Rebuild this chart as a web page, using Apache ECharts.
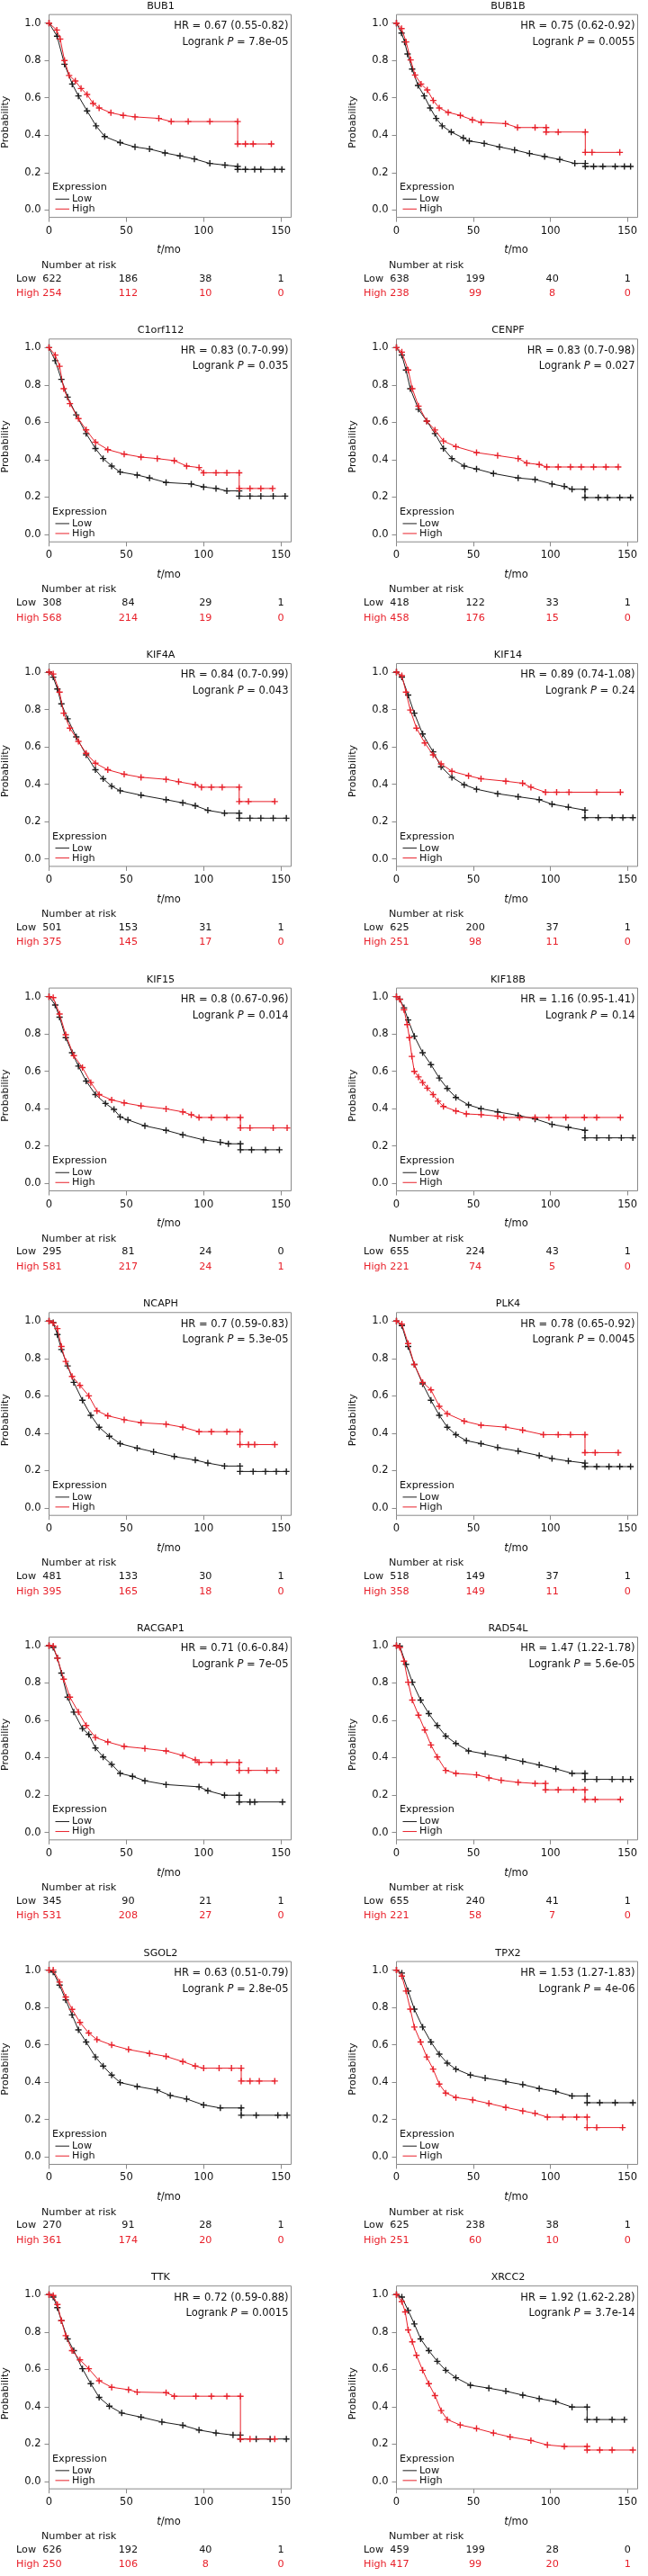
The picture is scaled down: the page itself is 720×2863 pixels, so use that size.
<!DOCTYPE html>
<html><head><meta charset="utf-8">
<script src="https://cdn.jsdelivr.net/npm/echarts@6/dist/echarts.min.js"></script>
<style>html,body{margin:0;padding:0;background:#fff}#c{width:720px;height:2863px}</style>
</head><body><div id="c"></div>
<script>
// ---------- DATA ----------
const genes = ['BUB1','BUB1B','C1orf112','CENPF','KIF4A','KIF14','KIF15','KIF18B','NCAPH','PLK4','RACGAP1','RAD54L','SGOL2','TPX2','TTK','XRCC2'];
const hrValues = ['0.67 (0.55-0.82)','0.75 (0.62-0.92)','0.83 (0.7-0.99)','0.83 (0.7-0.98)','0.84 (0.7-0.99)','0.89 (0.74-1.08)','0.8 (0.67-0.96)','1.16 (0.95-1.41)','0.7 (0.59-0.83)','0.78 (0.65-0.92)','0.71 (0.6-0.84)','1.47 (1.22-1.78)','0.63 (0.51-0.79)','1.53 (1.27-1.83)','0.72 (0.59-0.88)','1.92 (1.62-2.28)'];
const logrankP = ['7.8e-05','0.0055','0.035','0.027','0.043','0.24','0.014','0.14','5.3e-05','0.0045','7e-05','5.6e-05','2.8e-05','4e-06','0.0015','3.7e-14'];
const riskTimes = [0, 50, 100, 150];
const yTicks = [0, 0.2, 0.4, 0.6, 0.8, 1.0];
const riskLow = [[622,186,38,1],[638,199,40,1],[308,84,29,1],[418,122,33,1],[501,153,31,1],[625,200,37,1],[295,81,24,0],[655,224,43,1],[481,133,30,1],[518,149,37,1],[345,90,21,1],[655,240,41,1],[270,91,28,1],[625,238,38,1],[626,192,40,1],[459,199,28,0]];
const riskHigh = [[254,112,10,0],[238,99,8,0],[568,214,19,0],[458,176,15,0],[375,145,17,0],[251,98,11,0],[581,217,24,1],[221,74,5,0],[395,165,18,0],[358,149,11,0],[531,208,27,0],[221,58,7,0],[361,174,20,0],[251,60,10,0],[250,106,8,0],[417,99,20,1]];

const low_BUB1 = [[0,1],[5.2,0.93],[10,0.78],[15,0.674],[19,0.61],[24.6,0.53],[30.4,0.45],[36,0.393],[46,0.36],[55.6,0.337],[65,0.326],[75,0.305],[84.7,0.289],[94,0.273],[104,0.249],[113.8,0.24],[122,0.233],[122,0.217],[127,0.217],[133,0.217],[137,0.217],[146,0.217],[150.6,0.217]];
const high_BUB1 = [[0,1],[5,0.963],[7.2,0.915],[10,0.8],[13,0.72],[17,0.69],[20.7,0.65],[24.6,0.618],[28.5,0.57],[32.4,0.546],[40,0.52],[48,0.506],[55.6,0.498],[71,0.49],[79,0.473],[90,0.473],[104,0.473],[122,0.473],[122,0.353],[127,0.353],[132,0.353],[143.8,0.353]];
const low_BUB1B = [[0,1],[3.3,0.947],[5.3,0.899],[7.2,0.835],[10.2,0.754],[14,0.666],[18,0.61],[21.9,0.546],[25.8,0.49],[29.7,0.45],[35.6,0.417],[43.4,0.385],[47.3,0.369],[57,0.356],[66.9,0.337],[76.7,0.321],[86.4,0.302],[96.2,0.286],[106,0.27],[115.8,0.249],[122.6,0.249],[122.6,0.233],[128,0.233],[134,0.233],[142,0.233],[148,0.233],[152,0.233]];
const high_BUB1B = [[0,1],[3.3,0.971],[6.3,0.899],[9.2,0.803],[12.1,0.722],[16,0.674],[20,0.642],[23.9,0.586],[27.8,0.546],[33.6,0.522],[41.5,0.506],[49.3,0.482],[55,0.469],[70.8,0.462],[78.6,0.441],[90,0.441],[97.2,0.441],[97.2,0.417],[105,0.417],[122.6,0.417],[122.6,0.308],[127,0.308],[145,0.308]];
const low_C1orf112 = [[0,1],[4,0.93],[8,0.83],[12,0.735],[17.6,0.64],[24,0.54],[30,0.46],[35,0.406],[40.5,0.366],[46,0.334],[57,0.318],[65,0.302],[75.7,0.278],[92,0.27],[100,0.254],[108,0.246],[115,0.233],[123,0.233],[123,0.205],[130,0.205],[137,0.205],[145,0.205],[152.7,0.205]];
const high_C1orf112 = [[0,1],[4,0.96],[6.8,0.9],[9.5,0.78],[13.5,0.7],[19,0.62],[24,0.56],[30,0.494],[38,0.454],[48.6,0.43],[59.5,0.414],[70,0.406],[81,0.395],[89,0.366],[97,0.358],[100,0.33],[108,0.33],[115,0.33],[123,0.33],[123,0.246],[130,0.246],[137,0.246],[144.6,0.246]];
const low_CENPF = [[0,1],[3.5,0.96],[6.2,0.88],[9,0.78],[14.3,0.67],[19.7,0.607],[25,0.54],[30.5,0.46],[36,0.406],[44,0.366],[52,0.35],[63,0.326],[79,0.302],[90,0.294],[101,0.27],[109,0.257],[114,0.242],[122.4,0.242],[122.4,0.197],[131,0.197],[137,0.197],[145,0.197],[152,0.197]];
const high_CENPF = [[0,1],[3.5,0.976],[7.6,0.88],[10.3,0.78],[14.3,0.687],[19.7,0.607],[25,0.559],[30.5,0.5],[38.6,0.47],[52,0.438],[65.7,0.422],[79,0.406],[84.6,0.382],[92.7,0.374],[97.6,0.361],[105,0.361],[113,0.361],[120,0.361],[128,0.361],[136,0.361],[144,0.361]];
const low_KIF4A = [[0,1],[2.7,0.973],[5.4,0.91],[8,0.83],[12,0.75],[17.6,0.653],[24,0.557],[30,0.477],[35,0.429],[40.5,0.389],[46,0.365],[59.5,0.341],[75.7,0.317],[86.5,0.3],[94.6,0.285],[102.7,0.26],[113.5,0.245],[123,0.245],[123,0.218],[130,0.218],[137,0.218],[145,0.218],[153.5,0.218]];
const high_KIF4A = [[0,1],[2.7,0.99],[6.8,0.893],[9.5,0.78],[13.5,0.7],[19,0.629],[24,0.565],[30,0.512],[38,0.477],[48.6,0.453],[59.5,0.437],[75.7,0.426],[83.8,0.413],[94.6,0.397],[98.6,0.384],[105,0.384],[112,0.384],[123,0.384],[123,0.307],[129,0.307],[146,0.307]];
const low_KIF14 = [[0,1],[3.5,0.973],[7.6,0.877],[11.6,0.78],[17,0.669],[23.8,0.573],[29,0.493],[36,0.437],[44,0.397],[52,0.373],[65.7,0.349],[79,0.333],[92.7,0.317],[101,0.293],[111.6,0.277],[122.4,0.261],[122.4,0.221],[131,0.221],[140,0.221],[147,0.221],[153.5,0.221]];
const high_KIF14 = [[0,1],[3.5,0.981],[6.2,0.893],[9,0.797],[13,0.7],[18.4,0.621],[23.8,0.557],[29,0.509],[36,0.469],[46.8,0.445],[54.9,0.429],[71,0.416],[81.9,0.405],[87.3,0.384],[96.8,0.357],[104,0.357],[112,0.357],[130,0.357],[145.4,0.357]];
const low_KIF15 = [[0,1],[4,0.955],[6.8,0.89],[10.8,0.78],[14.9,0.7],[19,0.628],[24,0.548],[30,0.476],[36.5,0.428],[42,0.396],[46,0.356],[51,0.34],[62,0.308],[75.7,0.284],[86.5,0.26],[100,0.233],[110.8,0.22],[116,0.212],[123.8,0.212],[123.8,0.18],[131,0.18],[140,0.18],[149,0.18]];
const high_KIF15 = [[0,1],[2.7,0.995],[6.8,0.907],[10.8,0.796],[16,0.684],[21.6,0.62],[27,0.54],[32.4,0.476],[40.5,0.447],[48.6,0.431],[59.5,0.415],[75.7,0.399],[86.5,0.383],[92,0.367],[97,0.353],[105,0.353],[115,0.353],[123.8,0.353],[123.8,0.297],[130,0.297],[145,0.297],[154,0.297]];
const low_KIF18B = [[0,1],[2.2,0.987],[4.9,0.94],[7.6,0.875],[11.6,0.788],[17,0.7],[22.4,0.636],[27.8,0.564],[33,0.508],[38.6,0.46],[46.8,0.42],[54.9,0.4],[65.7,0.383],[79,0.364],[90,0.345],[101,0.316],[111.6,0.3],[122.4,0.284],[122.4,0.244],[130,0.244],[138,0.244],[146,0.244],[153.5,0.244]];
const high_KIF18B = [[0,1],[2.2,0.985],[4.9,0.93],[7,0.85],[8.4,0.78],[10,0.68],[11.6,0.6],[14.3,0.57],[17,0.54],[20,0.51],[23.8,0.476],[27,0.44],[30.5,0.412],[38.6,0.388],[45.4,0.372],[55,0.368],[65.7,0.36],[69.7,0.353],[80,0.353],[90,0.353],[99,0.353],[110,0.353],[122,0.353],[130,0.353],[145.4,0.353]];
const low_NCAPH = [[0,1],[2.7,0.992],[5.4,0.928],[8,0.848],[12,0.76],[16,0.672],[21.6,0.576],[27,0.496],[32.4,0.432],[39,0.384],[46,0.344],[57,0.32],[67.6,0.3],[81,0.275],[94.6,0.256],[102.7,0.24],[113.5,0.224],[123.5,0.224],[123.5,0.195],[132,0.195],[140,0.195],[147,0.195],[153.5,0.195]];
const high_NCAPH = [[0,1],[2.7,0.99],[5.4,0.96],[8,0.864],[10.8,0.784],[14.9,0.704],[20,0.656],[25.7,0.6],[31,0.52],[38,0.493],[48.6,0.472],[59.5,0.456],[75.7,0.448],[86.5,0.432],[97,0.408],[105,0.408],[115,0.408],[123.5,0.408],[123.5,0.339],[129,0.339],[133,0.339],[146,0.339]];
const low_PLK4 = [[0,1],[3.5,0.976],[7.6,0.864],[11.6,0.768],[17,0.664],[22.4,0.576],[27.8,0.496],[33,0.432],[38.6,0.392],[45.4,0.36],[54.9,0.344],[65.7,0.323],[79,0.304],[92.7,0.28],[101,0.264],[111.6,0.251],[122.4,0.24],[122.4,0.221],[130,0.221],[138,0.221],[145,0.221],[152,0.221]];
const high_PLK4 = [[0,1],[3.5,0.984],[7.6,0.88],[11.6,0.768],[17,0.672],[22.4,0.632],[27.8,0.544],[33,0.504],[44,0.464],[54.9,0.443],[71,0.432],[81.9,0.416],[95.4,0.392],[105,0.392],[113,0.392],[122.4,0.392],[122.4,0.296],[129,0.296],[144,0.296]];
const low_RACGAP1 = [[0,1],[2.7,0.99],[5.4,0.933],[8,0.853],[12,0.724],[16,0.644],[21.6,0.556],[25.7,0.524],[30,0.452],[35,0.404],[40.5,0.364],[46,0.316],[54,0.3],[62,0.276],[75.7,0.256],[97,0.244],[102.7,0.223],[113.5,0.199],[123,0.199],[123,0.163],[130,0.163],[133,0.163],[151,0.163]];
const high_RACGAP1 = [[0,1],[2.7,0.997],[5.4,0.933],[9.5,0.82],[13.5,0.724],[19,0.644],[24,0.572],[30,0.508],[38,0.484],[48.6,0.46],[62,0.449],[75.7,0.436],[86.5,0.412],[94.6,0.388],[97,0.375],[105,0.375],[115,0.375],[123,0.375],[123,0.332],[129,0.332],[141,0.332],[147,0.332]];
const low_RAD54L = [[0,1],[2.2,0.997],[6.2,0.9],[10.3,0.804],[15.7,0.708],[21,0.636],[26.5,0.572],[32,0.516],[38.6,0.476],[46.8,0.436],[57.6,0.42],[71,0.4],[82,0.38],[92.7,0.361],[103.5,0.34],[114,0.316],[122.4,0.316],[122.4,0.284],[130,0.284],[140,0.284],[147,0.284],[152,0.284]];
const high_RAD54L = [[0,1],[2.2,0.99],[4.9,0.917],[7.6,0.804],[10.3,0.708],[14.3,0.628],[18.4,0.548],[22.4,0.468],[26.5,0.404],[32,0.332],[38.6,0.316],[52,0.308],[60,0.292],[68,0.279],[79,0.268],[90,0.262],[96.8,0.262],[96.8,0.228],[105,0.228],[115,0.228],[122.4,0.228],[122.4,0.176],[129,0.176],[145.4,0.176]];
const low_SGOL2 = [[0,1],[2.7,0.99],[6.8,0.92],[10.8,0.84],[14.9,0.76],[19,0.68],[24,0.615],[30,0.535],[35,0.486],[40.5,0.438],[46,0.398],[57,0.377],[70,0.358],[78.4,0.329],[89,0.31],[100,0.278],[110.8,0.262],[124.3,0.262],[124.3,0.223],[134,0.223],[148,0.223],[154,0.223]];
const high_SGOL2 = [[0,1],[2.7,1],[6.8,0.936],[10.8,0.856],[14.9,0.79],[20,0.72],[25.7,0.663],[31,0.628],[40.5,0.599],[51.4,0.575],[65,0.554],[75.7,0.538],[86.5,0.51],[94.6,0.486],[100,0.475],[110,0.475],[118,0.475],[124.3,0.475],[124.3,0.406],[130,0.406],[136,0.406],[146,0.406]];
const low_TPX2 = [[0,1],[3.5,0.984],[7.6,0.888],[11.6,0.791],[17,0.695],[22.4,0.615],[27.8,0.55],[33,0.502],[38.6,0.47],[48,0.438],[57.6,0.422],[71,0.403],[82,0.387],[92.7,0.366],[103.5,0.35],[114,0.326],[123.8,0.326],[123.8,0.29],[132,0.29],[142,0.29],[153.5,0.29]];
const high_TPX2 = [[0,1],[3.5,0.968],[6.2,0.888],[9,0.791],[11.6,0.695],[15.7,0.615],[19.7,0.535],[23.8,0.47],[27.8,0.39],[32,0.342],[38.6,0.318],[49.5,0.305],[60,0.286],[71,0.265],[82,0.246],[90,0.233],[98,0.213],[108,0.213],[117,0.213],[123.8,0.213],[123.8,0.157],[130,0.157],[146.8,0.157]];
const low_TTK = [[0,1],[2.7,0.987],[5.4,0.93],[8,0.86],[12,0.763],[16,0.7],[21.6,0.603],[27,0.523],[32.4,0.45],[39,0.403],[47,0.366],[59.5,0.344],[73,0.318],[86.5,0.3],[97,0.275],[108,0.259],[119,0.248],[123.8,0.248],[123.8,0.227],[134,0.227],[143,0.227],[153.5,0.227]];
const high_TTK = [[0,1],[2.7,0.995],[5.4,0.947],[8,0.86],[10.8,0.78],[14.9,0.7],[20,0.651],[25.7,0.603],[32.4,0.539],[40.5,0.504],[51.4,0.491],[57,0.478],[75.7,0.475],[81,0.456],[95,0.456],[105,0.456],[115,0.456],[123.8,0.456],[123.8,0.227],[130,0.227],[146,0.227]];
const low_XRCC2 = [[0,1],[3.5,0.987],[7.6,0.915],[11.6,0.843],[15.7,0.763],[21,0.7],[26.5,0.643],[32,0.595],[38.6,0.555],[48,0.515],[60,0.499],[71,0.483],[82,0.462],[92.7,0.443],[103.5,0.427],[114,0.398],[123.8,0.398],[123.8,0.331],[130,0.331],[140,0.331],[148,0.331]];
const high_XRCC2 = [[0,1],[3.5,0.963],[5.7,0.907],[7.6,0.811],[10.3,0.747],[13,0.675],[17,0.595],[21,0.523],[25,0.459],[29,0.379],[33,0.331],[41.4,0.302],[52,0.283],[63,0.259],[73.8,0.238],[87.3,0.219],[98,0.195],[109,0.187],[123.8,0.187],[123.8,0.168],[132,0.168],[140,0.168],[153.5,0.168]];

const lowCurves = [low_BUB1,low_BUB1B,low_C1orf112,low_CENPF,low_KIF4A,low_KIF14,low_KIF15,low_KIF18B,low_NCAPH,low_PLK4,low_RACGAP1,low_RAD54L,low_SGOL2,low_TPX2,low_TTK,low_XRCC2];
const highCurves = [high_BUB1,high_BUB1B,high_C1orf112,high_CENPF,high_KIF4A,high_KIF14,high_KIF15,high_KIF18B,high_NCAPH,high_PLK4,high_RACGAP1,high_RAD54L,high_SGOL2,high_TPX2,high_TTK,high_XRCC2];

// ---------- STYLE / LAYOUT ----------
const FONT = 'DejaVu Sans';
const FS = 11.2;
const TXT = '#111111';
const RED = '#e8202a';
const BLACK = '#1c1c1c';
const GRAY = '#8a8a8a';
const COL_LEFT = [54.5, 440.5];
const COL_W = [269, 268];
const ROW0 = 25.7, ROW_STEP = 360.65, YSCALE = 207.6;
const Y_MIN = -0.04, Y_MAX = 1.046, X_MAX = 156.6;
const PLUS = 'path://M4,0H6V4H10V6H6V10H4V6H0V4H4Z';
const RISK_SHIFT = [3.5, 2, 2, 0];

function layout(i) {
  const col = i % 2, row = Math.floor(i / 2);
  const gl = COL_LEFT[col], gw = COL_W[col];
  const y1 = ROW0 + row * ROW_STEP;
  const y0 = y1 + YSCALE;
  const top = y1 - (Y_MAX - 1) * YSCALE;
  const h = (Y_MAX - Y_MIN) * YSCALE;
  return {gl, gw, y1, y0, top, h};
}

const chart = echarts.init(document.getElementById('c'), null, {renderer: 'canvas', width: 720, height: 2863});
const grid = [], xAxis = [], yAxis = [], series = [];

genes.forEach((g, i) => {
  const L = layout(i);
  grid.push({left: L.gl, top: L.top, width: L.gw, height: L.h, show: true, borderColor: GRAY, borderWidth: 1, containLabel: false});
  xAxis.push({
    gridIndex: i, type: 'value', min: 0, max: X_MAX,
    axisLine: {show: false, onZero: false}, splitLine: {show: false},
    axisTick: {show: true, inside: false, length: 5, lineStyle: {color: GRAY}, customValues: riskTimes},
    axisLabel: {customValues: riskTimes, margin: 9, fontSize: 11.5, color: TXT, fontFamily: FONT}
  });
  yAxis.push({
    gridIndex: i, type: 'value', min: Y_MIN, max: Y_MAX,
    axisLine: {show: false, onZero: false}, splitLine: {show: false},
    axisTick: {show: true, inside: false, length: 5, lineStyle: {color: GRAY}, customValues: yTicks},
    axisLabel: {customValues: yTicks, margin: 9, color: TXT, fontFamily: FONT, fontSize: 11.5, formatter: v => v.toFixed(1)}
  });
  series.push({
    type: 'line', name: 'Low', xAxisIndex: i, yAxisIndex: i, data: lowCurves[i],
    symbol: PLUS, symbolSize: 7, showSymbol: true, silent: true, animation: false, z: 2,
    itemStyle: {color: BLACK, borderWidth: 0}, lineStyle: {color: BLACK, width: 1}
  });
  series.push({
    type: 'line', name: 'High', xAxisIndex: i, yAxisIndex: i, data: highCurves[i],
    symbol: PLUS, symbolSize: 7, showSymbol: true, silent: true, animation: false, z: 3,
    itemStyle: {color: RED, borderWidth: 0}, lineStyle: {color: RED, width: 1}
  });
});

chart.setOption({animation: false, backgroundColor: '#ffffff', grid, xAxis, yAxis, series});

// ---------- TEXT ELEMENTS ----------
const font = (sz) => sz + 'px "' + FONT + '"';
function txt(x, y, text, opts) {
  opts = opts || {};
  return {
    type: 'text', x, y, silent: true, rotation: opts.rotation || 0,
    style: {text, font: font(opts.size || FS), fill: opts.fill || TXT,
            textAlign: opts.align || 'left', textVerticalAlign: 'middle', rich: opts.rich}
  };
}
const richDef = (sz) => ({
  n: {fontFamily: FONT, fontSize: sz, fill: TXT},
  i: {fontFamily: FONT, fontSize: sz, fontStyle: 'italic', fill: TXT}
});

const graphics = [];
genes.forEach((g, i) => {
  const L = layout(i);
  const gr = L.gl + L.gw;
  graphics.push(txt(L.gl + 124, L.y1 - 19, g, {align: 'center'}));
  graphics.push(txt(gr - 3, L.y1 + 3.3, 'HR = ' + hrValues[i], {align: 'right', size: 11.5}));
  graphics.push(txt(gr - 3, L.y1 + 21, '{n|Logrank }{i|P}{n| = ' + logrankP[i] + '}', {align: 'right', rich: richDef(11.5)}));
  graphics.push(txt(L.gl - 48.5, L.y1 + 110, 'Probability', {align: 'center', rotation: Math.PI / 2, size: 11}));
  graphics.push(txt(L.gl + 133, L.y0 + 45, '{i|t}{n|/mo}', {align: 'center', rich: richDef(11.5)}));
  // legend
  graphics.push(txt(L.gl + 3.5, L.y0 - 25, 'Expression'));
  graphics.push({type: 'line', silent: true, shape: {x1: L.gl + 7, y1: L.y0 - 12, x2: L.gl + 22.5, y2: L.y0 - 12}, style: {stroke: BLACK, lineWidth: 1}});
  graphics.push({type: 'line', silent: true, shape: {x1: L.gl + 7, y1: L.y0 - 1, x2: L.gl + 22.5, y2: L.y0 - 1}, style: {stroke: RED, lineWidth: 1}});
  graphics.push(txt(L.gl + 25.5, L.y0 - 12, 'Low'));
  graphics.push(txt(L.gl + 25.5, L.y0 - 1, 'High'));
  // risk table
  graphics.push(txt(L.gl - 8.5, L.y0 + 61.5, 'Number at risk'));
  graphics.push(txt(L.gl - 36.5, L.y0 + 76.3, 'Low'));
  graphics.push(txt(L.gl - 36.5, L.y0 + 92.7, 'High', {fill: RED}));
  riskTimes.forEach((t, k) => {
    const px = chart.convertToPixel({xAxisIndex: i}, t) + RISK_SHIFT[k];
    graphics.push(txt(px, L.y0 + 76.3, String(riskLow[i][k]), {align: 'center'}));
    graphics.push(txt(px, L.y0 + 92.7, String(riskHigh[i][k]), {align: 'center', fill: RED}));
  });
});
chart.setOption({graphic: graphics});
</script>
</body></html>
